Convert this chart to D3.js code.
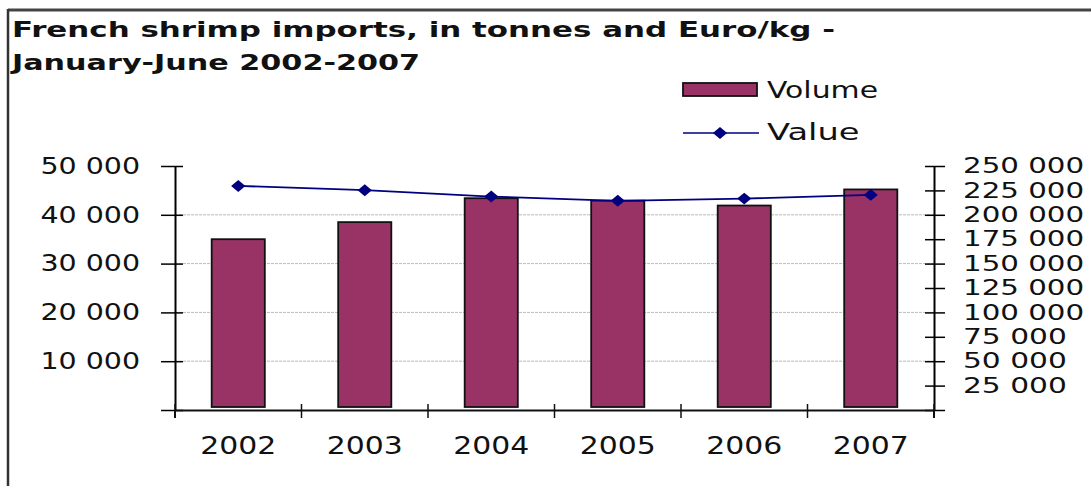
<!DOCTYPE html>
<html>
<head>
<meta charset="utf-8">
<script src="https://cdn.jsdelivr.net/npm/d3@7"></script>
<style>
  body { margin: 0; background: #fff; }
  svg { display: block; }
  text { font-family: "DejaVu Sans", sans-serif; fill: #111; }
</style>
</head>
<body>
<div id="chart"></div>
<script>
const titleLines = ["French shrimp imports, in tonnes and Euro/kg -", "January-June 2002-2007"];
const years = ["2002", "2003", "2004", "2005", "2006", "2007"];
const volume = [35000, 38500, 43400, 42900, 41900, 45200];
const value = [229600, 225200, 218700, 214300, 216600, 220400];
const volumeTicks = [0, 10000, 20000, 30000, 40000, 50000];
const valueTicks = [0, 25000, 50000, 75000, 100000, 125000, 150000, 175000, 200000, 225000, 250000];
const seriesNames = ["Volume", "Value"];

(() => {
    const width = 1091, height = 486;
    const plot = { left: 175, right: 934, top: 166, bottom: 410 };
    const barColor = "#993366", lineColor = "#000080";

    const fmt = d3.formatLocale({ decimal: ".", thousands: " ", grouping: [3], currency: ["", ""] }).format(",");

    // the reference text is drawn wide, so stretch each label to a per-character width
    const stretch = (sel, perChar) => sel
        .attr("textLength", function () { return this.textContent.length * perChar; })
        .attr("lengthAdjust", "spacingAndGlyphs");

    const data = years.map((d, i) => ({ year: d, volume: volume[i], value: value[i] }));

    const svg = d3.select("#chart").append("svg")
        .attr("width", width)
        .attr("height", height);

    // frame (top and left edges only)
    svg.append("line").attr("x1", 8).attr("x2", width).attr("y1", 10).attr("y2", 10)
        .attr("stroke", "#444").attr("stroke-width", 3);
    svg.append("line").attr("x1", 8).attr("x2", 8).attr("y1", 9).attr("y2", height)
        .attr("stroke", "#333").attr("stroke-width", 2.5);

    // title
    const titleWidths = [823, 408];
    svg.selectAll(".title")
        .data(titleLines)
        .enter().append("text")
        .attr("class", "title")
        .attr("x", 12)
        .attr("y", (d, i) => 37 + i * 33)
        .attr("textLength", (d, i) => titleWidths[i])
        .attr("lengthAdjust", "spacingAndGlyphs")
        .style("font-size", "21px")
        .style("font-weight", "bold")
        .text(d => d);

    const x = d3.scaleBand()
        .domain(years)
        .range([plot.left, plot.right])
        .paddingInner(0.58)
        .paddingOuter(0.29);

    const yL = d3.scaleLinear().domain([0, 50000]).range([plot.bottom, plot.top]);
    const yR = d3.scaleLinear().domain([0, 250000]).range([plot.bottom, plot.top]);

    // gridlines
    svg.append("g").selectAll("line")
        .data(volumeTicks.filter(d => d > 0 && d < 50000))
        .enter().append("line")
        .attr("x1", plot.left).attr("x2", plot.right)
        .attr("y1", d => yL(d)).attr("y2", d => yL(d))
        .attr("stroke", "#bbb")
        .attr("stroke-width", 1)
        .attr("stroke-dasharray", "3,1");

    // bars
    svg.append("g").selectAll(".bar")
        .data(data)
        .enter().append("rect")
        .attr("class", "bar")
        .attr("x", d => x(d.year))
        .attr("y", d => yL(d.volume))
        .attr("width", x.bandwidth())
        .attr("height", d => yL(0) - yL(d.volume) - 3)
        .attr("fill", barColor)
        .attr("stroke", "#111")
        .attr("stroke-width", 1.8);

    // left axis
    const leftAxis = svg.append("g")
        .attr("transform", `translate(${plot.left},0)`)
        .call(d3.axisLeft(yL).tickValues(volumeTicks).tickSize(14).tickSizeOuter(0).tickPadding(21)
            .tickFormat(d => d === 0 ? "" : fmt(d)));
    leftAxis.selectAll(".tick line").attr("x1", 8).attr("stroke-width", 1.5);
    leftAxis.select(".domain").attr("stroke-width", 2);
    leftAxis.selectAll("text")
        .style("font-family", "DejaVu Sans, sans-serif")
        .style("font-size", "23px")
        .attr("fill", "#222")
        .call(stretch, 16.6);

    // right axis
    const rightAxis = svg.append("g")
        .attr("transform", `translate(${plot.right},0)`)
        .call(d3.axisRight(yR).tickValues(valueTicks).tickSize(11).tickSizeOuter(0).tickPadding(18)
            .tickFormat(d => d === 0 ? "" : fmt(d)));
    rightAxis.selectAll(".tick line").attr("x1", -9).attr("stroke-width", 1.5);
    rightAxis.select(".domain").attr("stroke-width", 2);
    rightAxis.selectAll("text")
        .style("font-family", "DejaVu Sans, sans-serif")
        .style("font-size", "21px")
        .attr("fill", "#222")
        .call(stretch, 17.3);

    // extend both vertical axes slightly below the baseline
    [plot.left, plot.right].forEach(px => {
        svg.append("line").attr("x1", px).attr("x2", px)
            .attr("y1", plot.bottom).attr("y2", plot.bottom + 8)
            .attr("stroke", "#111").attr("stroke-width", 2);
    });

    // bottom axis: labels at band centres, ticks at band edges
    const bottomAxis = svg.append("g")
        .attr("transform", `translate(0,${plot.bottom})`)
        .call(d3.axisBottom(x).tickSize(0).tickPadding(27));
    bottomAxis.select(".domain").attr("stroke", "#111").attr("stroke-width", 2);
    bottomAxis.selectAll("text")
        .style("font-family", "DejaVu Sans, sans-serif")
        .style("font-size", "24px")
        .attr("fill", "#222")
        .call(stretch, 19);
    const edges = years.map(d => x(d) - x.step() * x.paddingOuter()).concat([plot.right]);
    bottomAxis.selectAll(".edge")
        .data(edges)
        .enter().append("line")
        .attr("class", "edge")
        .attr("x1", d => d).attr("x2", d => d)
        .attr("y1", -6).attr("y2", 8)
        .attr("stroke", "#111").attr("stroke-width", 1.5);

    // value line
    const line = d3.line()
        .x(d => x(d.year) + x.bandwidth() / 2)
        .y(d => yR(d.value));
    svg.append("path")
        .datum(data)
        .attr("d", line)
        .attr("fill", "none")
        .attr("stroke", lineColor)
        .attr("stroke-width", 1.8);

    const diamond = d3.symbol().type(d3.symbolSquare).size(92);
    svg.append("g").selectAll(".marker")
        .data(data)
        .enter().append("path")
        .attr("class", "marker")
        .attr("d", diamond)
        .attr("transform", d => `translate(${x(d.year) + x.bandwidth() / 2},${yR(d.value)}) scale(1.05,0.88) rotate(45)`)
        .attr("fill", lineColor);

    // legend
    const legend = svg.append("g").attr("transform", "translate(683,0)");
    legend.append("rect")
        .attr("x", 0).attr("y", 83).attr("width", 74).attr("height", 13)
        .attr("fill", barColor).attr("stroke", "#111").attr("stroke-width", 1.8);
    legend.append("line")
        .attr("x1", 0).attr("x2", 76).attr("y1", 133).attr("y2", 133)
        .attr("stroke", lineColor).attr("stroke-width", 1.5);
    legend.append("path")
        .attr("d", diamond)
        .attr("transform", "translate(37,133) scale(1.05,0.88) rotate(45)")
        .attr("fill", lineColor);
    legend.selectAll(".legend-label")
        .data(seriesNames)
        .enter().append("text")
        .attr("class", "legend-label")
        .attr("x", 84)
        .attr("y", (d, i) => 98 + i * 42)
        .style("font-size", "23px")
        .attr("fill", "#222")
        .text(d => d)
        .call(stretch, 18.5);
})();
</script>
</body>
</html>
